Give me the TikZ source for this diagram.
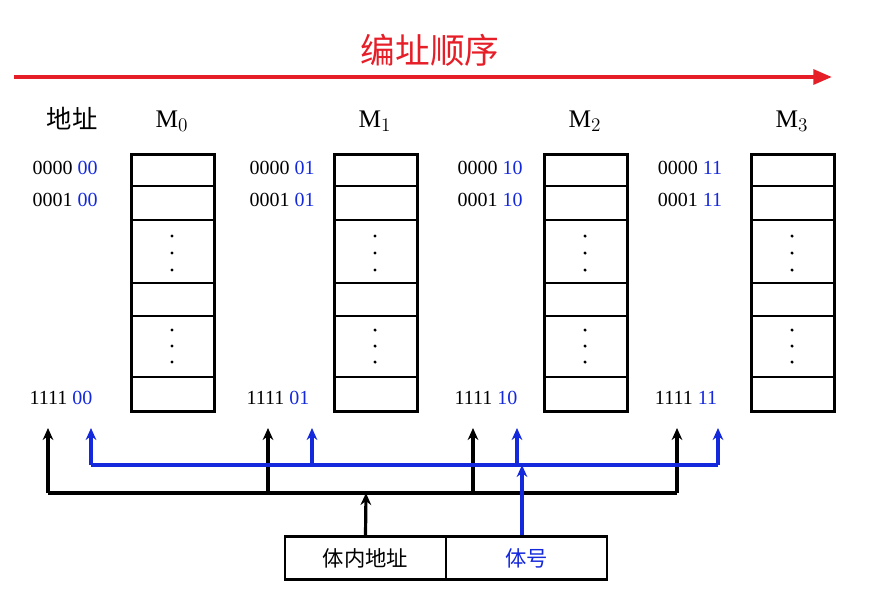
\documentclass[tikz,border=0pt]{standalone}
\usepackage{fontspec}
\setmainfont{Liberation Serif}
\newfontfamily\cjk{Noto Sans CJK SC}
\usetikzlibrary{arrows.meta}
\definecolor{myblue}{RGB}{20,40,220}
\definecolor{myred}{RGB}{230,30,40}
\tikzset{
 bank/.style={draw,line width=2.2pt},
 addr/.style={font=\fontsize{15}{15}\selectfont,inner sep=0pt},
 bline/.style={line width=2.4pt},
 barr/.style={line width=2.4pt,-{Stealth[length=9pt,width=8pt]}},
}
\begin{document}
\begin{tikzpicture}[x=0.75pt,y=-0.75pt]
\useasboundingbox (0,0) rectangle (877,594);
% red arrow
\node[text=myred,font=\cjk\fontsize{26}{26}\selectfont] (title) at (430,50) {编址顺序};
\coordinate (rs) at (14,77); \coordinate (re) at (832,77);
\draw[myred,line width=3pt,-{Triangle[length=14pt,width=11pt]}] (rs) -- (re);
\node[font=\cjk\fontsize{19}{19}\selectfont] (dz) at (72,119) {地址};
% banks
\foreach \i/\x/\ax in {0/130/65,1/333/282,2/543/490,3/750/690}{
  \node[font=\fontsize{19}{19}\selectfont] (m\i) at (\x+42,121) {M$_{\i}$};
  \node[bank,minimum width=62pt,minimum height=192.75pt,inner sep=0pt,anchor=north west] (b\i) at (\x,153) {};
  \foreach \yy in {186,220,283,316,377}{\draw[line width=2.2pt] (\x,\yy) -- (\x+83,\yy);}
  \foreach \yy in {236,253,270,330,346,362}{\fill (\x+42,\yy) circle (1.3pt);}
}
\foreach \i/\ax/\b in {0/65/00,1/282/01,2/490/10,3/690/11}{
  \node[addr] (a\i) at (\ax,168) {0000 \textcolor{myblue}{\b}};
  \node[addr] (c\i) at (\ax,200) {0001 \textcolor{myblue}{\b}};
  \node[addr] (d\i) at (\ax-4,398) {1111 \textcolor{myblue}{\b}};
}
% bottom box
\node[draw,line width=2.2pt,minimum width=120.75pt,minimum height=32pt,inner sep=0pt,font=\cjk\fontsize{16}{16}\selectfont] (bn) at (365.5,558) {体内地址};
\node[draw,line width=2.2pt,minimum width=120.75pt,minimum height=32pt,inner sep=0pt,text=myblue,font=\cjk\fontsize{16}{16}\selectfont] (bh) at (526.5,558) {体号};
% black
\coordinate (k0) at (48,493); \coordinate (k1) at (268,493); \coordinate (k2) at (473,493); \coordinate (k3) at (677,493); \coordinate (km) at (366,493);
\draw[bline] (k0) -- (k3);
\foreach \i/\x in {0/48,1/268,2/473,3/677}{\coordinate (kt\i) at (\x,428); \draw[barr] (k\i) -- (kt\i);}
\draw[barr] (bn.north) -- (km);
% blue
\coordinate (u0) at (91,465); \coordinate (u1) at (312,465); \coordinate (u2) at (517,465); \coordinate (u3) at (718,465); \coordinate (um) at (522,465);
\draw[bline,myblue] (u0) -- (u3);
\foreach \i/\x in {0/91,1/312,2/517,3/718}{\coordinate (ut\i) at (\x,428); \draw[barr,myblue] (u\i) -- (ut\i);}
\draw[barr,myblue] (bh.north -| um) -- (um);
\end{tikzpicture}
\end{document}
